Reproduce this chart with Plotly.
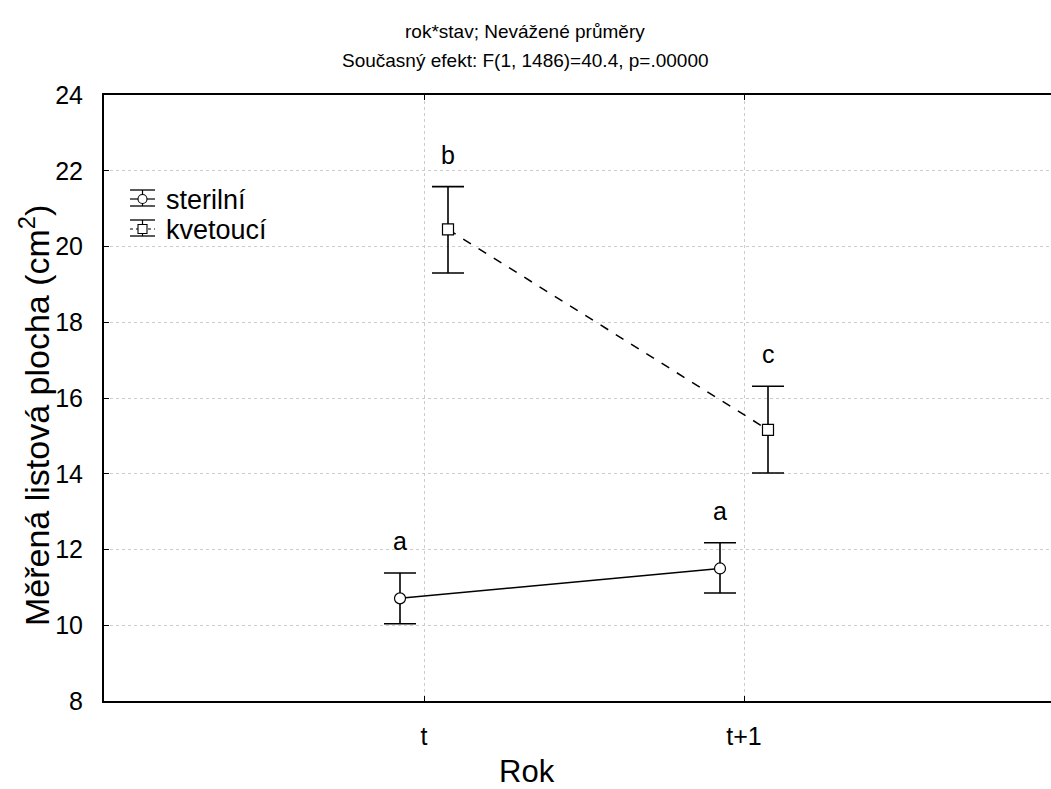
import plotly.graph_objects as go

# Category labels on the x axis
years = ["t", "t+1"]

# Unweighted means with confidence limits (cm^2)
sterilni_mean = [10.71, 11.50]
sterilni_low = [10.04, 10.85]
sterilni_high = [11.38, 12.18]

kvetouci_mean = [20.45, 15.16]
kvetouci_low = [19.30, 14.02]
kvetouci_high = [21.58, 16.31]

# Post-hoc group letters
sterilni_letters = ["a", "a"]
kvetouci_letters = ["b", "c"]

FONT = "Liberation Sans, Arial, sans-serif"
DODGE = 0.075
L, T, B = 104, 95, 88
W, H = 1051, 789
PW, PH = W - L, H - T - B

xs = [i - DODGE for i in range(len(years))]
xk = [i + DODGE for i in range(len(years))]


def px(xp):
    return (xp - L) / PW


def py(yp):
    return (H - B - yp) / PH


fig = go.Figure()

fig.add_trace(go.Scatter(
    x=xs, y=sterilni_mean, mode="lines+markers", name="sterilní",
    line=dict(color="black", width=1.5),
    marker=dict(symbol="circle", size=11, color="white", line=dict(color="black", width=1.2)),
    error_y=dict(type="data", symmetric=False,
                 array=[h - m for h, m in zip(sterilni_high, sterilni_mean)],
                 arrayminus=[m - l for m, l in zip(sterilni_mean, sterilni_low)],
                 color="black", thickness=1.6, width=16),
    showlegend=False,
))
fig.add_trace(go.Scatter(
    x=xk, y=kvetouci_mean, mode="lines+markers", name="kvetoucí",
    line=dict(color="black", width=1.5, dash="dash"),
    marker=dict(symbol="square", size=11, color="white", line=dict(color="black", width=1.2)),
    error_y=dict(type="data", symmetric=False,
                 array=[h - m for h, m in zip(kvetouci_high, kvetouci_mean)],
                 arrayminus=[m - l for m, l in zip(kvetouci_mean, kvetouci_low)],
                 color="black", thickness=1.6, width=16),
    showlegend=False,
))

annotations = []
for x, hi, lab in zip(xs, sterilni_high, sterilni_letters):
    annotations.append(dict(x=x, y=hi, text=lab, showarrow=False, yshift=32,
                            font=dict(size=25, color="black", family=FONT)))
for x, hi, lab in zip(xk, kvetouci_high, kvetouci_letters):
    annotations.append(dict(x=x, y=hi, text=lab, showarrow=False, yshift=32,
                            font=dict(size=25, color="black", family=FONT)))

# Title lines
for text, yc in (("rok*stav; Nevážené průměry", 31),
                 ("Současný efekt: F(1, 1486)=40.4, p=.00000", 60)):
    annotations.append(dict(xref="paper", yref="paper", x=px(525), y=py(yc),
                            xanchor="center", yanchor="middle",
                            text=text, showarrow=False,
                            font=dict(size=19, color="black", family=FONT)))

# Axis titles
annotations.append(dict(xref="paper", yref="paper", x=px(527), y=py(771),
                        xanchor="center", yanchor="middle", text="Rok", showarrow=False,
                        font=dict(size=31, color="black", family=FONT)))
annotations.append(dict(xref="paper", yref="paper", x=px(34), y=py(416),
                        xanchor="center", yanchor="middle", textangle=-90,
                        text="Měřená listová plocha (cm<sup>2</sup>)", showarrow=False,
                        font=dict(size=34, color="black", family=FONT)))

# Hand-built legend: error-bar glyph with marker plus label
shapes = []
legend_items = [("sterilní", "circle", "solid", 199), ("kvetoucí", "square", "dot", 229)]
for label, sym, dash, yc in legend_items:
    x0, x1, xc = 130, 155, 142.5
    for yy in (yc - 9, yc + 7):
        shapes.append(dict(type="line", xref="paper", yref="paper",
                           x0=px(x0), x1=px(x1), y0=py(yy), y1=py(yy),
                           line=dict(color="black", width=1.3)))
    shapes.append(dict(type="line", xref="paper", yref="paper",
                       x0=px(x0), x1=px(x1), y0=py(yc), y1=py(yc),
                       line=dict(color="black", width=1.2, dash=dash)))
    shapes.append(dict(type="line", xref="paper", yref="paper",
                       x0=px(xc), x1=px(xc), y0=py(yc - 9), y1=py(yc + 7),
                       line=dict(color="black", width=1.2)))
    shapes.append(dict(type="circle" if sym == "circle" else "rect",
                       xref="paper", yref="paper",
                       x0=px(xc - 4.5), x1=px(xc + 4.5), y0=py(yc - 4.5), y1=py(yc + 4.5),
                       fillcolor="white", line=dict(color="black", width=1.1)))
    annotations.append(dict(xref="paper", yref="paper", x=px(164), y=py(yc + 1),
                            xanchor="left", yanchor="middle", text=label, showarrow=False,
                            font=dict(size=27, color="black", family=FONT)))

fig.update_layout(
    width=W, height=H,
    margin=dict(l=L, r=0, t=T, b=B),
    paper_bgcolor="white", plot_bgcolor="white",
    font=dict(family=FONT, color="black"),
    annotations=annotations,
    shapes=shapes,
    showlegend=False,
)

fig.update_xaxes(
    range=[-1, -1 + PW / 320.0],
    tickvals=list(range(len(years))), ticktext=years,
    tickfont=dict(size=25, family=FONT, color="black"),
    ticks="inside", ticklen=5, tickcolor="black", tickwidth=1,
    showline=True, linecolor="black", linewidth=2, mirror="ticks",
    showgrid=True, gridcolor="#cccccc", griddash="dot", gridwidth=1,
    zeroline=False, ticklabelstandoff=12,
)
fig.update_yaxes(
    range=[8, 24], tickvals=list(range(8, 25, 2)),
    tickfont=dict(size=25, family=FONT, color="black"),
    ticks="inside", ticklen=5, tickcolor="black", tickwidth=1,
    showline=True, linecolor="black", linewidth=2, mirror=False,
    showgrid=True, gridcolor="#cccccc", griddash="dot", gridwidth=1,
    zeroline=False, ticklabelstandoff=14,
)

fig.write_html("out.html")
